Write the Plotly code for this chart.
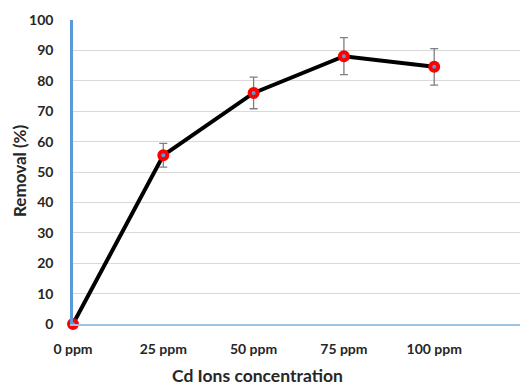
import plotly.graph_objects as go

categories = ["0 ppm", "25 ppm", "50 ppm", "75 ppm", "100 ppm"]
removal = [0, 55.5, 76.0, 88.1, 84.6]
error = [0, 3.9, 5.2, 6.1, 6.0]

W, H = 520, 385
ml, mr, mt, mb = 73, 0, 20, 61

fig = go.Figure()
fig.add_trace(go.Scatter(
    x=categories, y=removal,
    mode="lines+markers",
    line=dict(color="black", width=4),
    marker=dict(size=8, color="#5B9BD5", line=dict(color="#FF0000", width=4)),
    error_y=dict(type="data", array=error, visible=True, color="#7F7F7F", thickness=1.3, width=4),
    cliponaxis=False,
    showlegend=False,
))

font_family = "Lato, 'Open Sans', sans-serif"
fig.update_layout(
    width=W, height=H,
    margin=dict(l=ml, r=mr, t=mt, b=mb),
    paper_bgcolor="white", plot_bgcolor="white",
    font=dict(family=font_family, color="#262626"),
    xaxis=dict(
        type="category", categoryorder="array", categoryarray=categories,
        range=[0, 4.95],
        showgrid=False, zeroline=False,
        showline=True, linecolor="#9DC3E6", linewidth=2,
        tickfont=dict(size=14, weight="bold", color="#262626"),
        ticks="", ticklabelstandoff=11,
    ),
    yaxis=dict(
        range=[0, 100], dtick=10,
        showgrid=True, gridcolor="#D9D9D9", gridwidth=1.3,
        zeroline=False,
        showline=True, linecolor="#5B9BD5", linewidth=2.5,
        tickfont=dict(size=14, weight="bold", color="#262626"),
        ticks="", ticklabelstandoff=14,
    ),
    annotations=[
        dict(text="Removal (%)", x=19, y=171, xref="paper", yref="paper",
             showarrow=False, textangle=-90,
             font=dict(size=17, weight="bold", color="#262626")),
        dict(text="Cd Ions concentration", x=257, y=375, xref="paper", yref="paper",
             showarrow=False,
             font=dict(size=17.5, weight="bold", color="#262626")),
    ],
)

pw, ph = W - ml - mr, H - mt - mb
for a in fig.layout.annotations:
    px, py = a.x, a.y
    a.x = (px - ml) / pw
    a.y = 1 - (py - mt) / ph
    a.xanchor = "center"
    a.yanchor = "middle"

fig.write_html("out.html")
